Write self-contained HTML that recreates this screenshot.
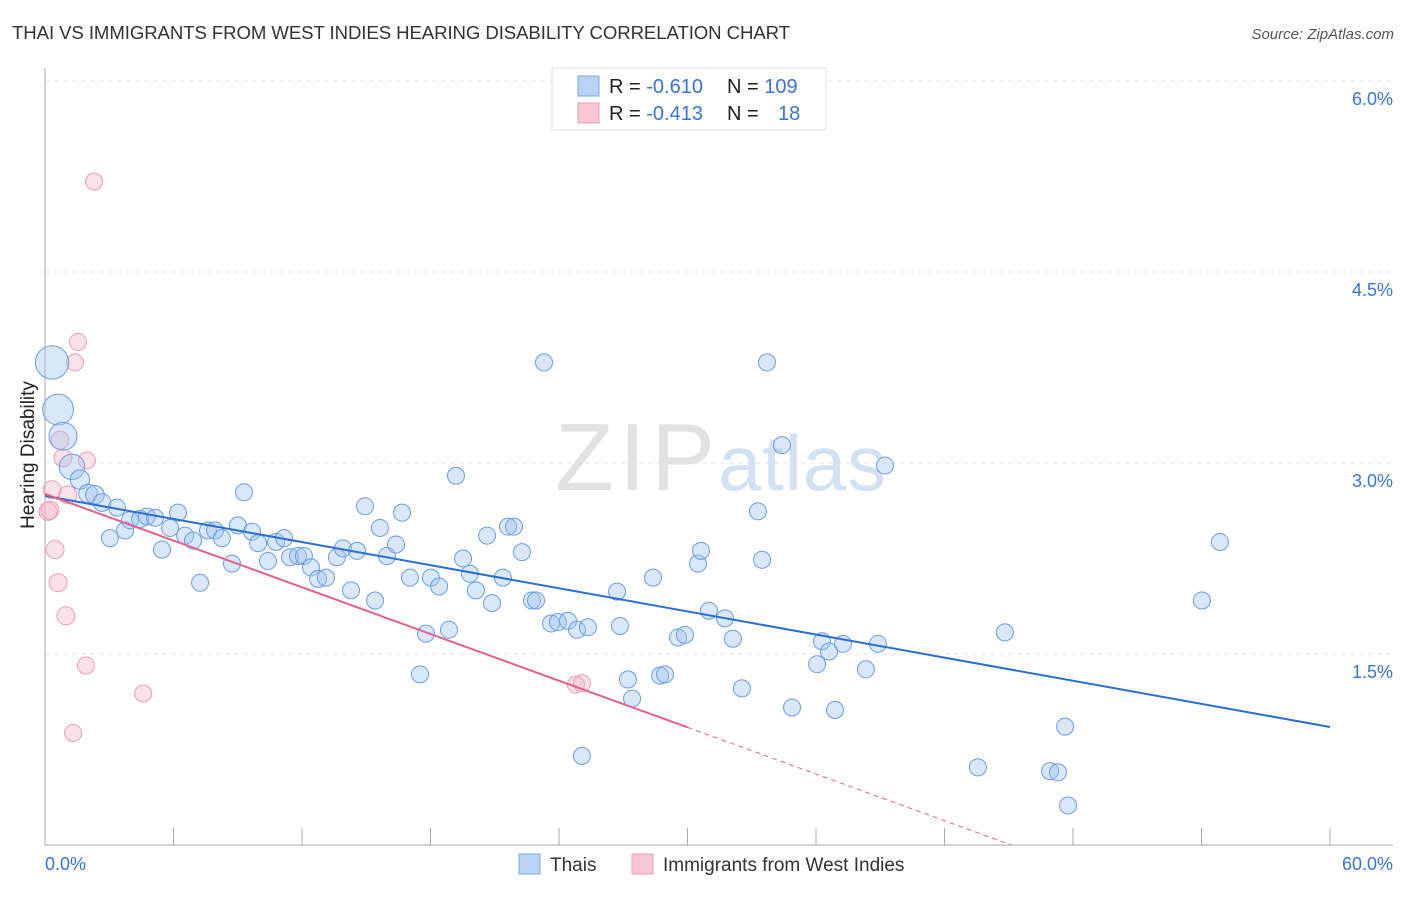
<!DOCTYPE html>
<html><head><meta charset="utf-8"><style>
body{margin:0;background:#fff;font-family:"Liberation Sans",sans-serif}
svg text{font-family:"Liberation Sans",sans-serif}
</style></head><body>
<svg width="1406" height="892" viewBox="0 0 1406 892">
<text x="12" y="39" font-size="18.6" fill="#333" textLength="778">THAI VS IMMIGRANTS FROM WEST INDIES HEARING DISABILITY CORRELATION CHART</text>
<text x="1394" y="39" font-size="15" fill="#555" text-anchor="end" font-style="italic">Source: ZipAtlas.com</text>
<g id="grid"></g>
<text x="555" y="490" font-size="96" fill="#e2e2e2" textLength="160" font-family="Liberation Serif">ZIP</text>
<text x="718" y="490" font-size="78" fill="#d3e1f4" textLength="168">atlas</text>
<g id="axes"></g>
<g id="pts"></g>
<g id="trend"></g>
<text x="34" y="455" font-size="19" fill="#222" text-anchor="middle" transform="rotate(-90 34 455)">Hearing Disability</text>
<g>
<rect x="552" y="68" width="274" height="62" fill="#fff" stroke="#ddd"/>
<rect x="578" y="76" width="21" height="20" fill="#b9d3f5" stroke="#7aa7e6"/>
<rect x="578" y="103" width="21" height="20" fill="#f8c6d5" stroke="#ee9cb6"/>
<text x="609" y="93" font-size="20" fill="#222">R = <tspan fill="#3a74d8">-0.610</tspan>  <tspan x="727">N = </tspan><tspan fill="#3a74d8">109</tspan></text>
<text x="609" y="120" font-size="20" fill="#222">R = <tspan fill="#3a74d8">-0.413</tspan>  <tspan x="727">N = </tspan><tspan x="778" fill="#3a74d8">18</tspan></text>
</g>
<g>
<rect x="519" y="854" width="21" height="20" fill="#b9d3f5" stroke="#7aa7e6"/>
<text x="550" y="871" font-size="19" fill="#333">Thais</text>
<rect x="632" y="854" width="21" height="20" fill="#f8c6d5" stroke="#ee9cb6"/>
<text x="663" y="871" font-size="19" fill="#333">Immigrants from West Indies</text>
</g>
</svg>
<script>
const blueX=[0.33,0.61,0.84,1.26,1.63,2.01,2.33,2.66,3.36,3.03,3.74,3.97,4.44,4.76,5.14,5.46,5.84,6.21,6.54,6.91,7.24,7.61,7.94,8.26,8.73,9.01,9.29,9.67,9.95,10.41,10.79,11.16,11.44,11.81,12.09,12.42,12.75,13.12,13.63,13.91,14.29,14.57,14.94,15.41,15.64,15.97,16.39,16.67,17.04,17.51,17.79,18.02,18.40,18.86,19.19,19.52,19.84,20.12,20.64,20.87,21.38,21.62,21.90,22.27,22.74,22.93,23.30,23.63,23.95,24.42,24.84,25.07,25.35,26.71,26.85,27.22,27.41,28.39,28.72,28.95,29.56,29.88,30.49,30.63,31.00,31.75,32.12,32.54,33.29,33.48,33.71,34.41,34.88,36.05,36.28,36.61,36.89,37.26,38.33,38.89,39.22,43.56,44.82,46.93,47.30,47.63,47.77,54.02,54.86];
const blueY=[3.79,3.42,3.21,2.97,2.87,2.76,2.75,2.69,2.65,2.41,2.47,2.55,2.56,2.58,2.57,2.32,2.49,2.61,2.43,2.39,2.06,2.47,2.47,2.41,2.21,2.51,2.77,2.46,2.37,2.23,2.38,2.41,2.26,2.27,2.27,2.18,2.09,2.10,2.26,2.33,2.00,2.31,2.66,1.92,2.49,2.27,2.36,2.61,2.10,1.34,1.66,2.10,2.03,1.69,2.90,2.25,2.13,2.00,2.43,1.90,2.10,2.50,2.50,2.30,1.92,1.92,3.79,1.74,1.75,1.76,1.69,0.70,1.71,1.99,1.72,1.30,1.15,2.10,1.33,1.34,1.63,1.65,2.21,2.31,1.84,1.78,1.62,1.23,2.62,2.24,3.79,3.14,1.08,1.42,1.60,1.52,1.06,1.58,1.38,1.58,2.98,0.61,1.67,0.58,0.57,0.93,0.31,1.92,2.38];
const blueWeight=[3,2.5,2,1.6,1.3,1.2,1.2,1.1];
const pinkX=[0.14,0.23,0.33,0.47,0.61,0.70,0.84,0.98,1.07,1.31,1.40,1.54,1.91,1.96,2.29,4.58,24.79,25.07];
const pinkY=[2.62,2.63,2.79,2.32,2.06,3.18,3.04,1.80,2.75,0.88,3.79,3.95,1.41,3.02,5.21,1.19,1.26,1.27];
const blueTrend=[2.742,0.927];
const pinkTrend=[2.757,-0.0611];
const yTicks=[1.5,3.0,4.5,6.0];
const yTickLabels=["1.5%","3.0%","4.5%","6.0%"];
const xTickCount=10;
const ns="http://www.w3.org/2000/svg";
const X0=45,X1=1330,YB=845;
const sx=v=>X0+v*(X1-X0)/60;
const sy=v=>YB-v*127.33;
function mk(tag,at,parent){const e=document.createElementNS(ns,tag);for(const k in at)e.setAttribute(k,at[k]);parent.appendChild(e);return e;}
const grid=document.getElementById('grid'),axes=document.getElementById('axes'),pts=document.getElementById('pts'),tr=document.getElementById('trend');
yTicks.forEach((t,i)=>{
 const l=mk('line',{x1:X0,x2:1393,y1:sy(t),y2:sy(t),stroke:'#e6e6e6','stroke-dasharray':'5,4'},grid);
 
 
 const tx=mk('text',{x:1393,y:sy(t)+24,'font-size':18,fill:'#3a74d8','text-anchor':'end'},axes);
 tx.textContent=yTickLabels[i];
 
 
});
let a=mk('line',{x1:X0,x2:X0,y1:68,y2:YB,stroke:'#aaa'},axes);


a=mk('line',{x1:X0,x2:1393,y1:YB,y2:YB,stroke:'#aaa'},axes);


for(let i=1;i<=xTickCount;i++){
 const t=mk('line',{x1:sx(i*6),x2:sx(i*6),y1:828,y2:YB,stroke:'#aaa'},axes);
 
 
}
let xl=mk('text',{x:45,y:870,'font-size':18,fill:'#3a74d8'},axes);xl.textContent='0.0%';


xl=mk('text',{x:1393,y:870,'font-size':18,fill:'#3a74d8','text-anchor':'end'},axes);xl.textContent='60.0%';


pinkX.forEach((v,i)=>{
 const c=mk('circle',{cx:sx(v),cy:sy(pinkY[i]),r:i<9?9:8.5,fill:'rgba(246,180,200,0.4)',stroke:'#ee9cb6','stroke-width':1},pts);
 
 
});
blueX.forEach((v,i)=>{
 const w=blueWeight[i]||1;
 const c=mk('circle',{cx:sx(v),cy:sy(blueY[i]),r:8.5*Math.sqrt(w)+(w>1.5?2:0),fill:'rgba(160,196,242,0.4)',stroke:'#6a9de6','stroke-width':1},pts);
 
 
});
let ln=mk('line',{x1:sx(0),y1:sy(blueTrend[0]),x2:sx(60),y2:sy(blueTrend[1]),stroke:'#2a6fd6','stroke-width':2},tr);


const pEnd=30,pZero=-pinkTrend[0]/pinkTrend[1];
ln=mk('line',{x1:sx(0),y1:sy(pinkTrend[0]),x2:sx(pEnd),y2:sy(pinkTrend[0]+pinkTrend[1]*pEnd),stroke:'#e4628c','stroke-width':2},tr);


ln=mk('line',{x1:sx(pEnd),y1:sy(pinkTrend[0]+pinkTrend[1]*pEnd),x2:sx(pZero),y2:sy(0),stroke:'#e4628c','stroke-width':1,'stroke-dasharray':'5,4'},tr);


</script>
</body></html>
